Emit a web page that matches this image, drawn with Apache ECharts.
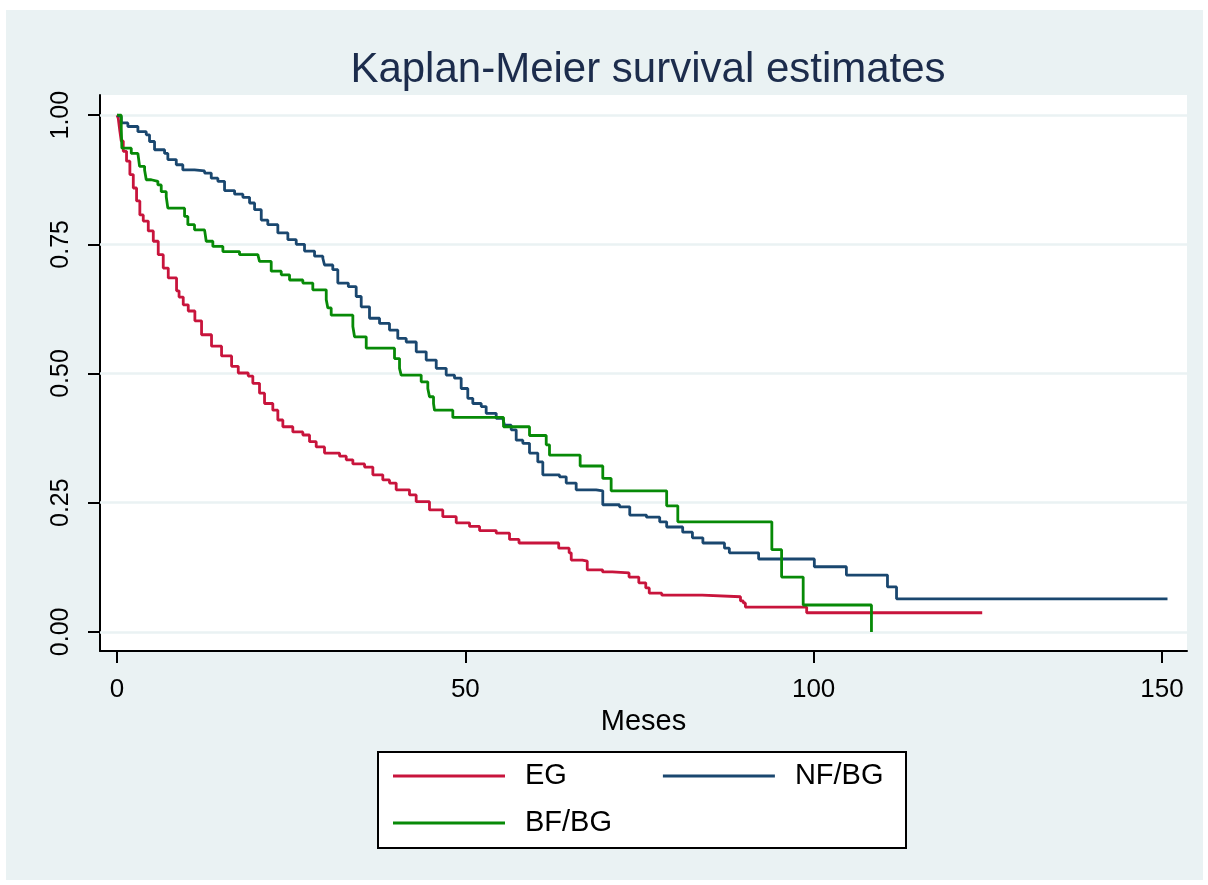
<!DOCTYPE html>
<html>
<head>
<meta charset="utf-8">
<script src="https://cdn.jsdelivr.net/npm/echarts@6/dist/echarts.min.js"></script>
<style>
  html, body { margin: 0; padding: 0; background: #ffffff; }
  #bg { position: absolute; left: 6px; top: 10px; width: 1197px; height: 870px; background: #eaf2f3; }
  #chart { position: absolute; left: 0; top: 0; width: 1208px; height: 885px; }
</style>
</head>
<body>
<div id="bg"></div>
<div id="chart"></div>
<script>
// ---- Data ----
const seriesNames = ['EG', 'NF/BG', 'BF/BG'];

// EG (time in months, survival)
const egT = [0, 0.17, 0.4, 0.6, 0.89, 1.36, 1.84, 2.33, 2.8, 3.27, 3.76, 4.48, 5.2, 5.91, 6.63, 7.35, 8.54, 8.9, 9.5, 10.22, 11.17, 12.13, 13.56, 15.0, 16.44, 17.4, 18.83, 19.49, 20.45, 21.17, 22.36, 23.08, 23.8, 25.23, 26.67, 27.63, 28.59, 29.78, 31.94, 32.9, 33.85, 35.53, 36.72, 38.15, 39.11, 40.07, 41.98, 42.94, 44.85, 46.76, 48.69, 50.6, 52.04, 54.43, 56.34, 57.7, 63.4, 64.9, 65.2, 66.8, 67.5, 69.7, 71.1, 73.5, 74.9, 75.9, 76.4, 78.2, 84.0, 89.5, 89.9, 90.2, 99.0, 124.2];
const egS = [1.0, 0.994, 0.969, 0.95, 0.93, 0.911, 0.885, 0.859, 0.834, 0.807, 0.795, 0.776, 0.756, 0.73, 0.704, 0.685, 0.66, 0.648, 0.633, 0.621, 0.602, 0.575, 0.553, 0.534, 0.514, 0.501, 0.495, 0.481, 0.462, 0.442, 0.429, 0.41, 0.397, 0.387, 0.381, 0.368, 0.358, 0.346, 0.34, 0.333, 0.325, 0.319, 0.304, 0.294, 0.288, 0.275, 0.265, 0.252, 0.236, 0.223, 0.211, 0.204, 0.196, 0.191, 0.179, 0.172, 0.162, 0.153, 0.139, 0.137, 0.12, 0.116, 0.114, 0.106, 0.095, 0.085, 0.075, 0.071, 0.068, 0.06, 0.056, 0.048, 0.037, 0.037];

// NF/BG
const nfT = [0, 0.22, 0.6, 1.55, 2.99, 4.19, 4.66, 5.38, 6.82, 7.29, 8.5, 9.44, 11.12, 12.56, 13.52, 14.47, 15.43, 16.87, 18.06, 19.02, 19.74, 20.7, 21.64, 23.08, 24.52, 25.72, 26.91, 28.35, 29.54, 29.78, 30.97, 31.69, 33.2, 34.33, 35.05, 36.24, 37.68, 39.11, 40.3, 41.51, 42.95, 44.38, 45.82, 47.25, 48.44, 49.4, 50.35, 51.07, 52.28, 52.99, 54.43, 55.38, 55.62, 56.58, 57.3, 58.25, 59.21, 60.4, 61.12, 63.51, 64.48, 65.91, 68.78, 69.73, 72.13, 73.6, 76.0, 77.9, 78.9, 81.2, 82.6, 84.1, 87.2, 87.9, 92.1, 100.1, 104.7, 110.6, 111.9, 150.8];
const nfS = [1.0, 0.997, 0.985, 0.978, 0.968, 0.962, 0.949, 0.933, 0.926, 0.914, 0.904, 0.894, 0.892, 0.888, 0.878, 0.872, 0.854, 0.847, 0.841, 0.83, 0.817, 0.797, 0.788, 0.772, 0.759, 0.75, 0.737, 0.727, 0.723, 0.71, 0.701, 0.675, 0.668, 0.649, 0.629, 0.607, 0.597, 0.584, 0.568, 0.561, 0.542, 0.526, 0.51, 0.497, 0.491, 0.471, 0.452, 0.442, 0.436, 0.423, 0.413, 0.411, 0.4, 0.391, 0.371, 0.365, 0.346, 0.329, 0.304, 0.3, 0.288, 0.275, 0.273, 0.246, 0.242, 0.226, 0.222, 0.213, 0.203, 0.193, 0.182, 0.172, 0.162, 0.153, 0.141, 0.126, 0.11, 0.087, 0.064, 0.064];

// BF/BG
const bfT = [0, 0.6, 0.69, 2.04, 2.99, 3.23, 3.95, 4.19, 4.91, 5.86, 6.34, 7.06, 7.29, 9.69, 10.16, 11.12, 12.56, 12.8, 13.75, 15.19, 17.58, 20.21, 20.45, 22.13, 23.57, 24.76, 26.67, 28.1, 30.03, 30.26, 30.74, 33.85, 34.09, 35.77, 39.83, 40.55, 40.79, 43.66, 44.61, 44.85, 45.43, 45.57, 48.2, 55.48, 59.21, 61.61, 62.08, 66.48, 69.73, 70.93, 78.9, 80.5, 94.0, 95.4, 98.5, 108.3];
const bfS = [1.0, 0.975, 0.936, 0.926, 0.923, 0.901, 0.894, 0.875, 0.872, 0.865, 0.852, 0.842, 0.82, 0.804, 0.788, 0.778, 0.775, 0.756, 0.746, 0.736, 0.73, 0.727, 0.717, 0.698, 0.691, 0.681, 0.675, 0.662, 0.643, 0.627, 0.613, 0.591, 0.571, 0.549, 0.529, 0.51, 0.497, 0.484, 0.471, 0.455, 0.442, 0.429, 0.415, 0.397, 0.38, 0.362, 0.342, 0.321, 0.297, 0.273, 0.244, 0.213, 0.159, 0.106, 0.052, 0.0];

const xTicks = [0, 50, 100, 150];
const yTicks = [0, 0.25, 0.5, 0.75, 1];
const titleText = 'Kaplan-Meier survival estimates';
const xName = 'Meses';

// ---- Chart ----
const FONT = '"Liberation Sans", Arial, sans-serif';
const colors = ['#c8143c', '#1a476f', '#078a07'];
const zip = (t, s) => t.map((v, i) => [v, s[i]]);
const dataSets = [zip(egT, egS), zip(nfT, nfS), zip(bfT, bfS)];

const chart = echarts.init(document.getElementById('chart'), null, { renderer: 'canvas' });

const legendCommon = {
  orient: 'horizontal',
  left: 393,
  padding: 0,
  icon: 'rect',
  itemWidth: 112,
  itemHeight: 3,
  itemGap: 96,
  textStyle: { fontFamily: FONT, fontSize: 29, color: '#000', padding: [0, 0, 0, 15], lineHeight: 30 },
  z: 10
};

const option = {
  animation: false,
  backgroundColor: 'transparent',
  color: colors,
  title: {
    text: titleText,
    left: 643,
    textAlign: 'center',
    top: 44,
    textStyle: { fontFamily: FONT, fontSize: 42, fontWeight: 'normal', color: '#1c2c4c' }
  },
  legend: [
    Object.assign({}, legendCommon, { data: [seriesNames[0], seriesNames[1]], top: 761 }),
    Object.assign({}, legendCommon, { data: [seriesNames[2]], top: 808 })
  ],
  graphic: [
    {
      type: 'rect', z: 0, silent: true,
      shape: { x: 378, y: 752, width: 528, height: 96 },
      style: { fill: '#ffffff', stroke: '#000000', lineWidth: 2 }
    }
  ],
  grid: {
    show: true,
    left: 100, right: 21, top: 95, bottom: 234,
    backgroundColor: '#ffffff',
    borderWidth: 0,
    containLabel: false
  },
  xAxis: {
    type: 'value',
    min: -2.45, max: 153.6,
    name: xName,
    nameLocation: 'middle',
    nameGap: 50,
    nameTextStyle: { fontFamily: FONT, fontSize: 29, color: '#000' },
    axisLine: { show: true, onZero: false, lineStyle: { color: '#000', width: 2 } },
    axisTick: { show: true, length: 12, lineStyle: { color: '#000', width: 2 }, customValues: xTicks },
    axisLabel: { show: true, margin: 26, fontFamily: FONT, fontSize: 26, color: '#000', customValues: xTicks, formatter: v => String(v) },
    splitLine: { show: false }
  },
  yAxis: {
    type: 'value',
    min: -0.037, max: 1.039,
    axisLine: { show: true, onZero: false, lineStyle: { color: '#000', width: 2 } },
    axisTick: { show: true, length: 12, lineStyle: { color: '#000', width: 2 }, customValues: yTicks },
    axisLabel: { show: true, rotate: 90, margin: 26, fontFamily: FONT, fontSize: 25, color: '#000', customValues: yTicks, formatter: v => Number(v).toFixed(2) },
    splitLine: { show: false }
  },
  series: [
    {
      name: '_grid', type: 'line', data: [], z: 1, silent: true,
      markLine: {
        z: 1,
        silent: true, symbol: ['none', 'none'], animation: false,
        label: { show: false },
        lineStyle: { color: '#eaf2f3', width: 2.5, type: 'solid' },
        emphasis: { disabled: true },
        data: yTicks.map(v => ({ yAxis: v }))
      }
    }
  ].concat(seriesNames.map((name, i) => ({
    name: name,
    type: 'line',
    step: 'end',
    data: dataSets[i],
    showSymbol: false,
    symbol: 'none',
    z: 3 + i,
    lineStyle: { color: colors[i], width: 2.8 },
    itemStyle: { color: colors[i] },
    emphasis: { disabled: true }
  })))
};

chart.setOption(option);
</script>
</body>
</html>
